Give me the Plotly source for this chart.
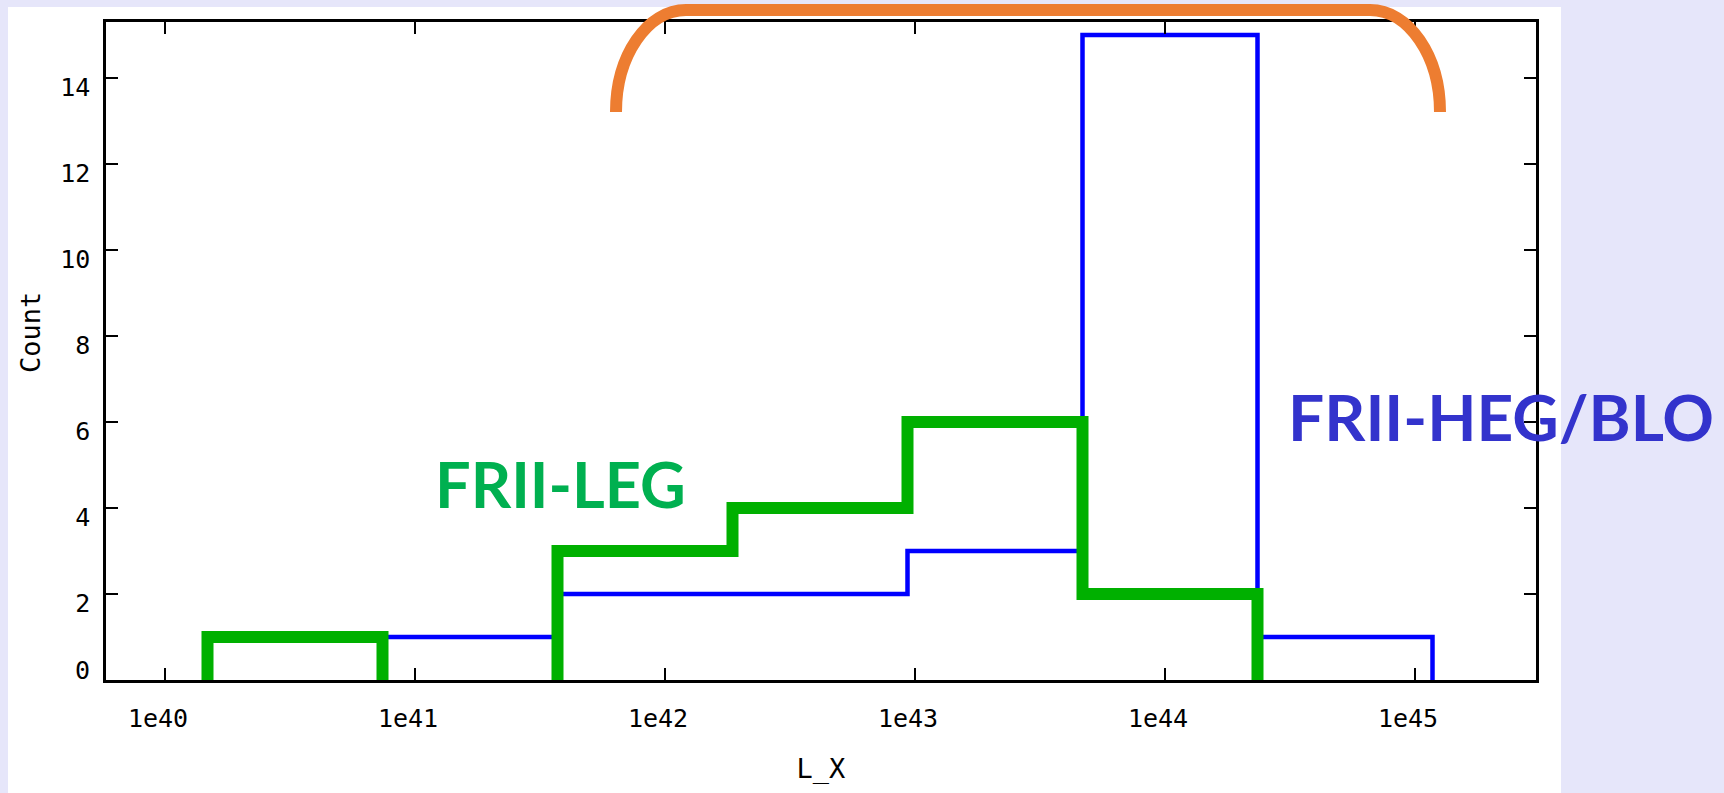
import plotly.graph_objects as go

# ---- data ----
log_edges = [40.17, 40.87, 41.57, 42.27, 42.97, 43.67, 44.37, 45.07]   # log10(L_X) bin edges
heg_blo_counts = [0, 1, 2, 2, 3, 15, 1]    # FRII-HEG/BLO (blue)
leg_counts = [1, 0, 3, 4, 6, 2, 0]         # FRII-LEG (green)
x_tick_exps = [40, 41, 42, 43, 44, 45]
x_tick_labels = ["1e40", "1e41", "1e42", "1e43", "1e44", "1e45"]
y_tick_vals = [2, 4, 6, 8, 10, 12, 14]
y_tick_labels = ["2", "4", "6", "8", "10", "12", "14"]

# ---- figure geometry (pixels) ----
W, H = 1724, 793
L, R, T, B = 106, 1536, 22, 680


def px_x(p):
    return (p - L) / (R - L)


def px_y(p):
    return (B - p) / (B - T)


def outline(edges, counts):
    xs, ys = [], []
    i, n = 0, len(counts)
    while i < n:
        if counts[i] == 0:
            i += 1
            continue
        j = i
        xs.append(10.0 ** edges[i]); ys.append(0)
        while j < n and counts[j] > 0:
            xs += [10.0 ** edges[j], 10.0 ** edges[j + 1]]
            ys += [counts[j], counts[j]]
            j += 1
        xs.append(10.0 ** edges[j]); ys.append(0)
        xs.append(None); ys.append(None)
        i = j
    return xs, ys


fig = go.Figure()
bx, by = outline(log_edges, heg_blo_counts)
fig.add_trace(go.Scatter(x=bx, y=by, mode="lines", line=dict(color="#0000ff", width=4.5),
                         name="FRII-HEG/BLO", hoverinfo="skip"))
gx, gy = outline(log_edges, leg_counts)
fig.add_trace(go.Scatter(x=gx, y=gy, mode="lines", line=dict(color="#00b000", width=12),
                         name="FRII-LEG", hoverinfo="skip"))

tick_font = dict(family="DejaVu Sans Mono", size=25, color="black")
title_font = dict(family="DejaVu Sans Mono", size=27, color="black")

fig.update_xaxes(type="log", range=[39.764, 45.484],
                 tickvals=[10.0 ** e for e in x_tick_exps], ticktext=x_tick_labels,
                 ticks="inside", ticklen=12, tickwidth=2, tickcolor="black",
                 showline=True, linewidth=2.5, linecolor="black", mirror="allticks",
                 showgrid=False, zeroline=False, tickfont=tick_font,
                 ticklabelstandoff=14, ticklabelshift=-7, automargin=False,
                 title=dict(text="L_X", font=title_font, standoff=28))
fig.update_yaxes(range=[0, 15.3], tickvals=y_tick_vals, ticktext=y_tick_labels,
                 ticks="inside", ticklen=12, tickwidth=2, tickcolor="black",
                 showline=True, linewidth=2.5, linecolor="black", mirror="allticks",
                 showgrid=False, zeroline=False, tickfont=tick_font,
                 ticklabelshift=9, ticklabelstandoff=8, automargin=False)

# white panel behind the chart
fig.add_shape(type="rect", xref="paper", yref="paper", layer="below",
              x0=px_x(8), x1=px_x(1561), y0=px_y(H + 5), y1=px_y(7),
              fillcolor="white", line=dict(width=0))

# orange bracket
k = 0.5523
xl, xr, yt, yb, rx, ry = 616, 1440, 10, 112, 70, 102
pts = [(xl, yb), (xl, yb - k * ry), (xl + rx - k * rx, yt), (xl + rx, yt),
       (xr - rx, yt), (xr - rx + k * rx, yt), (xr, yb - k * ry), (xr, yb)]
P = [(px_x(a), px_y(b)) for a, b in pts]
path = ("M {0[0]},{0[1]} C {1[0]},{1[1]} {2[0]},{2[1]} {3[0]},{3[1]} L {4[0]},{4[1]} "
        "C {5[0]},{5[1]} {6[0]},{6[1]} {7[0]},{7[1]}").format(*P)
fig.add_shape(type="path", xref="paper", yref="paper", path=path,
              line=dict(color="#ed7d31", width=12))

fig.add_annotation(text="FRII-LEG", xref="paper", yref="paper", x=px_x(433), y=px_y(483),
                   xanchor="left", yanchor="middle", showarrow=False,
                   font=dict(family="Lato", size=63, color="#00b050", weight="bold"))
fig.add_annotation(text="FRII-HEG/BLO", xref="paper", yref="paper", x=px_x(1286), y=px_y(416.5),
                   xanchor="left", yanchor="middle", showarrow=False,
                   font=dict(family="Lato", size=64, color="#3333cc", weight="bold"))
# y axis title, placed as in the reference (slightly above the axis centre)
fig.add_annotation(text="Count", xref="paper", yref="paper", x=px_x(30), y=px_y(333),
                   xanchor="center", yanchor="middle", textangle=-90, showarrow=False,
                   font=title_font)
# bottom tick label of the count axis sits above its tick
fig.add_annotation(text="0", xref="paper", yref="paper", x=px_x(92), y=px_y(670.5),
                   xanchor="right", yanchor="middle", showarrow=False, font=tick_font)

fig.update_layout(width=W, height=H, margin=dict(l=L, r=W - R, t=T, b=H - B),
                  paper_bgcolor="#e6e6fa", plot_bgcolor="white", showlegend=False)

fig.write_html("out.html", config={"displayModeBar": False},
               post_script="document.body.style.margin='0';"
                           "document.body.style.overflow='hidden';"
                           "document.body.style.background='#e6e6fa';")
